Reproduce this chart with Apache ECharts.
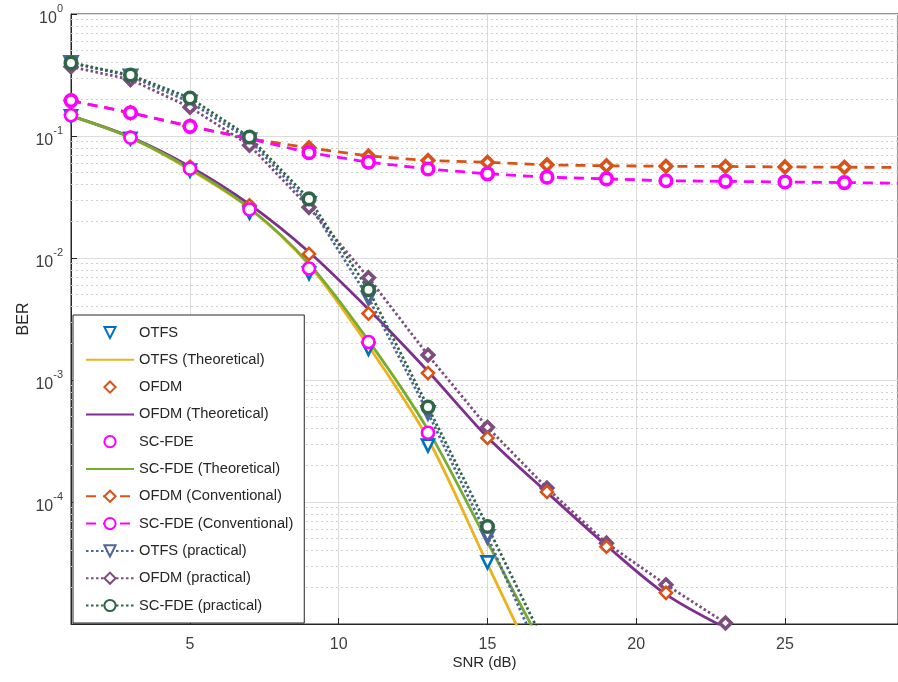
<!DOCTYPE html>
<html><head><meta charset="utf-8">
<script src="https://cdn.jsdelivr.net/npm/echarts@6/dist/echarts.min.js"></script>
<style>html,body{margin:0;padding:0;background:#fff}#c{width:898px;height:682px}</style>
</head><body><div id="c"></div>
<script>
// ---- data ----
const xSim = [1,3,5,7,9,11,13,15];
const otfsSim = [0.145,0.095,0.052,0.0235,0.0075,0.0018,0.00029,0.000032];
const otfsTheoX = [1,3,5,7,9,11,13,15,16];
const otfsTheo = [0.146,0.097,0.053,0.0255,0.0088,0.0019,0.00033,0.000031,0.0000095];
const ofdmSimX = [1,3,5,7,9,11,13,15,17,19,21];
const ofdmSim = [0.15,0.097,0.056,0.027,0.0108,0.0035,0.00114,0.000335,0.000121,0.000043,0.000018];
const ofdmTheoX = [1,3,5,7,9,11,13,15,17,19,21,23];
const ofdmTheo = [0.146,0.098,0.056,0.0275,0.0112,0.0038,0.00118,0.00034,0.00012,0.000044,0.0000175,0.0000093];
const scSimX = [1,3,5,7,9,11,13];
const scSim = [0.148,0.097,0.054,0.025,0.0082,0.00205,0.00037];
const scTheoX = [1,3,5,7,9,11,13,15,17];
const scTheo = [0.146,0.097,0.054,0.0257,0.009,0.0021,0.00039,0.000047,0.0000056];
const convX = [1,3,5,7,9,11,13,15,17,19,21,23,25,27,29];
const ofdmConv = [0.195,0.155,0.12,0.095,0.08,0.0686,0.063,0.061,0.058,0.057,0.0565,0.0563,0.0558,0.0555,0.0553];
const scConv = [0.195,0.155,0.12,0.095,0.073,0.061,0.0537,0.049,0.046,0.0445,0.043,0.0425,0.042,0.0415,0.041];
const otfsPracX = [1,3,5,7,9,11,13,15,17];
const otfsPrac = [0.40,0.31,0.19,0.093,0.028,0.0047,0.00054,0.000052,0.0000042];
const ofdmPracX = [1,3,5,7,9,11,13,15,17,19,21,23];
const ofdmPrac = [0.37,0.29,0.172,0.084,0.026,0.0069,0.0016,0.00041,0.00013,0.000046,0.000021,0.0000102];
const scPracX = [1,3,5,7,9,11,13,15,17];
const scPrac = [0.397,0.316,0.205,0.098,0.0305,0.0055,0.0006,0.000063,0.0000063];
const xTicks = [5,10,15,20,25];
const X_MIN = 1, X_MAX = 28.8;
const minorGrid = [];
for (let e=-5;e<0;e++) for (let k=2;k<=9;k++) minorGrid.push(k*Math.pow(10,e));

const pairs = (xs, ys) => xs.map((x,i)=>[x, ys[i]]);
const FONT = 'Liberation Sans, Arial, sans-serif';
const C = {blue:'#0072BD', yellow:'#EDB120', orange:'#D95319', purple:'#7E2F8E', magenta:'#FF00FF', green:'#77AC30',
  pBlue:'#4D6699', pPurple:'#7D4D7F', pGreen:'#2F6648'};

function markersOnly(name, data, color, symbol, rot){
  return {name, type:'line', data, symbol, symbolSize: 12, symbolRotate: rot||0, showAllSymbol:true,
    lineStyle:{width:0, opacity:0}, itemStyle:{color:'#fff', borderColor:color, borderWidth:2.6}, z:5};
}
function line(name, data, color){
  return {name, type:'line', data, showSymbol:false, symbol:'none', smooth:0.3,
    lineStyle:{color, width:2.8}, itemStyle:{color}, z:3};
}
function marked(name, data, color, symbol, type, rot){
  return {name, type:'line', data, symbol, symbolSize:11.5, symbolRotate: rot||0, showAllSymbol:true,
    lineStyle:{color, width:2.8, type}, itemStyle:{color:'#fff', borderColor:color, borderWidth:3.6}, z:4};
}

const chart = echarts.init(document.getElementById('c'));
const series = [
  markersOnly('OTFS', pairs(xSim, otfsSim), C.blue, 'triangle', 180),
  line('OTFS (Theoretical)', pairs(otfsTheoX, otfsTheo), C.yellow),
  markersOnly('OFDM', pairs(ofdmSimX, ofdmSim), C.orange, 'diamond'),
  line('OFDM (Theoretical)', pairs(ofdmTheoX, ofdmTheo), C.purple),
  markersOnly('SC-FDE', pairs(scSimX, scSim), C.magenta, 'circle'),
  line('SC-FDE (Theoretical)', pairs(scTheoX, scTheo), C.green),
  marked('OFDM (Conventional)', pairs(convX, ofdmConv), C.orange, 'diamond', [10,7]),
  marked('SC-FDE (Conventional)', pairs(convX, scConv), C.magenta, 'circle', [10,7]),
  marked('OTFS (practical)', pairs(otfsPracX, otfsPrac), C.pBlue, 'triangle', [2.5,2.5], 180),
  marked('OFDM (practical)', pairs(ofdmPracX, ofdmPrac), C.pPurple, 'diamond', [2.5,2.5]),
  marked('SC-FDE (practical)', pairs(scPracX, scPrac), C.pGreen, 'circle', [2.5,2.5])
];
const names = series.map(s=>s.name);
series.push({type:'lines', coordinateSystem:'cartesian2d', silent:true, z:1,
  lineStyle:{color:'#d0d0d0', type:[2,3], width:1, opacity:1},
  data: minorGrid.map(v=>({coords:[[X_MIN,v],[X_MAX,v]]}))});

const legendData = names.map((n,i)=>{
  if (i===1||i===3||i===5) return {name:n, itemStyle:{opacity:0}};
  return {name:n};
});

chart.setOption({
  animation:false,
  backgroundColor:'#fff',
  grid:{left:71, right:0, top:14, bottom:58, show:true, borderColor:'#262626', borderWidth:1, backgroundColor:'#fff'},
  legend:{
    orient:'vertical', left:73, top:315, padding:[10,11,10,12],
    backgroundColor:'#fff', borderColor:'#262626', borderWidth:1,
    itemWidth:48, itemHeight:14, itemGap:12.3,
    textStyle:{fontFamily:FONT, fontSize:14.7, color:'#262626', lineHeight:14},
    data: legendData
  },
  xAxis:{type:'value', min:X_MIN, max:X_MAX, name:'SNR (dB)', nameLocation:'middle', nameGap:31, nameMoveOverlap:false,
    nameTextStyle:{fontFamily:FONT, fontSize:15, color:'#262626'},
    axisLine:{lineStyle:{color:'#262626'}},
    axisTick:{inside:true, length:6, customValues:xTicks, lineStyle:{color:'#262626'}},
    axisLabel:{customValues:xTicks, fontFamily:FONT, fontSize:16, color:'#404040', margin:13},
    splitLine:{show:true, lineStyle:{color:'#dcdcdc', width:1}}
  },
  yAxis:{type:'log', logBase:10, min:1e-5, max:1, name:'BER', nameLocation:'middle', nameGap:39, nameMoveOverlap:false,
    nameTextStyle:{fontFamily:FONT, fontSize:16, color:'#262626'},
    axisLine:{lineStyle:{color:'#262626'}},
    axisTick:{inside:true, length:6, lineStyle:{color:'#262626'}},
    axisLabel:{showMinLabel:false, margin:8, fontFamily:FONT,
      formatter:v=>'{b|10}{s|'+Math.round(Math.log10(v))+'}',
      rich:{b:{fontSize:16, color:'#404040', fontFamily:FONT, padding:[9,0,0,0]},
            s:{fontSize:11, color:'#404040', fontFamily:FONT, verticalAlign:'top', padding:[2,0,0,0]}}},
    splitLine:{show:true, lineStyle:{color:'#dcdcdc', width:1}}
  },
  series
});
</script></body></html>
